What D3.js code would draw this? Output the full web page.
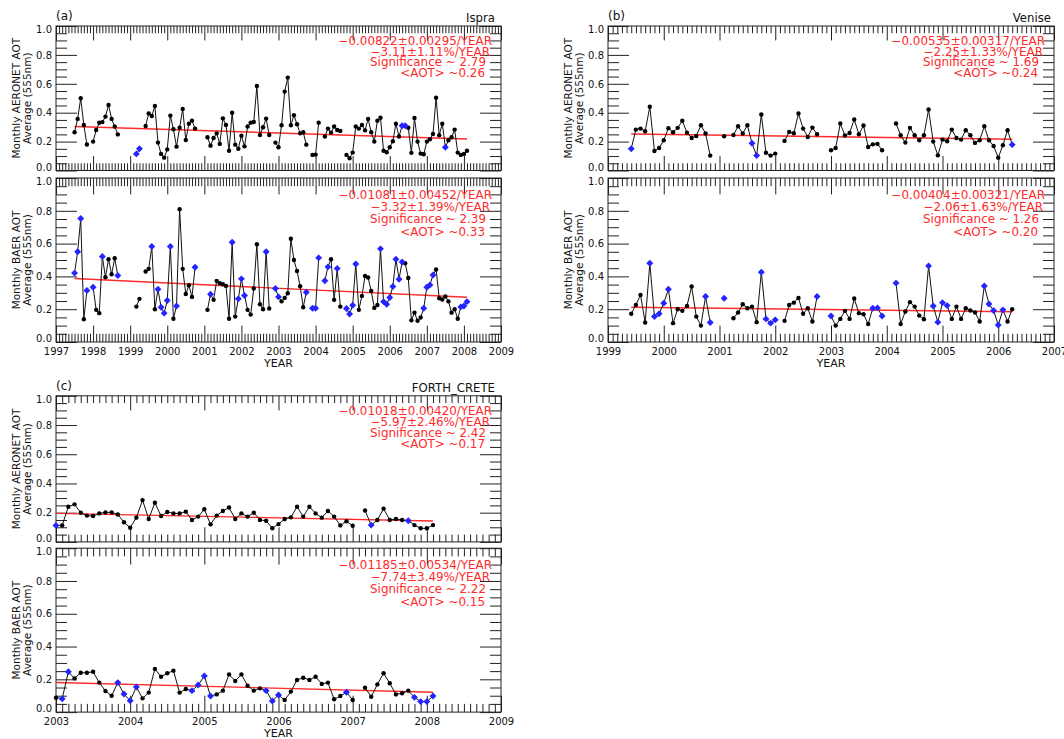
<!DOCTYPE html>
<html><head><meta charset="utf-8">
<script src="https://cdn.jsdelivr.net/npm/d3@7"></script>
<style>body{margin:0;background:#fff}svg{display:block}</style>
</head><body><svg id="chart" width="1064" height="739"></svg>
<script>
// ---------------- DATA ----------------
const yTicks = [0, 0.2, 0.4, 0.6, 0.8, 1.0];
const yMinorTicks = [0.05,0.1,0.15,0.25,0.3,0.35,0.45,0.5,0.55,0.65,0.7,0.75,0.85,0.9,0.95];

// Ispra (a): monthly series starting July 1997
const ispraYears = [1997,1998,1999,2000,2001,2002,2003,2004,2005,2006,2007,2008,2009];
const ispraStart = [1997, 7];
const ispraAeronet = [0.265,0.357,0.50,0.315,0.18,null,
 0.20,0.28,0.33,0.335,0.373,0.453,0.357,0.304,0.25,
 null,null,null,null,null,
 0.115,0.15,null,
 0.308,0.395,0.377,0.446,0.193,0.115,0.089,0.146,0.38,0.285,0.165,0.296,0.426,0.211,0.324,0.345,0.29,
 null,null,null,
 0.23,0.172,0.225,0.257,0.184,0.361,0.315,0.137,0.40,0.179,0.151,0.24,0.167,0.304,0.331,0.336,0.585,0.246,0.299,0.359,0.246,
 null,
 0.193,0.161,0.313,0.546,0.643,0.313,0.382,0.32,0.257,0.265,0.179,
 null,
 0.108,0.11,0.331,
 null,
 0.235,0.29,0.262,0.304,0.28,0.274,
 null,
 0.108,0.085,0.124,0.304,0.29,0.315,0.278,0.357,0.265,0.20,0.345,0.365,0.137,0.126,0.161,0.202,0.324,0.235,0.31,0.31,
 0.296,0.122,0.363,0.20,0.117,0.112,0.20,0.216,0.253,0.503,0.244,0.324,0.161,0.209,0.23,0.283,0.124,0.108,0.115,0.137];
const ispraAeronetBlue = [20,21,106,107,120];
const ispraAeronetTrend = [0.305, -0.00822];
const ispraAeronetStats = ["\u22120.00822\u00b10.00295/YEAR","\u22123.11\u00b11.11%/YEAR","Significance ~ 2.79","<AOT> ~0.26"];

const ispraBaer = [0.42,0.55,0.753,0.139,0.314,null,
 0.334,0.196,0.176,0.521,0.395,0.505,0.413,0.511,0.405,
 null,null,null,null,null,
 0.216,0.263,null,
 0.43,0.446,0.582,0.20,0.322,0.212,0.176,0.253,0.582,0.142,0.22,0.81,0.446,0.293,0.346,0.275,0.456,
 null,null,null,
 0.196,0.291,0.257,0.373,0.358,0.352,0.342,0.142,0.608,0.155,0.263,0.385,0.283,0.196,0.167,0.326,0.596,0.23,0.20,0.55,0.204,
 null,
 0.326,0.275,0.248,0.269,0.297,0.63,0.50,0.433,0.34,0.212,0.303,
 null,
 0.206,0.206,0.513,
 null,
 0.374,0.458,0.505,0.257,0.448,0.216,
 null,
 0.204,0.171,0.224,0.476,0.196,0.281,0.403,0.393,0.311,0.208,0.226,0.568,0.246,0.23,0.271,0.338,0.505,0.383,0.488,0.48,
 0.39,0.132,0.179,0.13,0.149,0.206,0.334,0.348,0.409,0.442,0.267,0.259,0.277,0.248,0.179,0.20,0.142,0.214,0.22,0.246];
const ispraBaerBlue = [0,1,2,4,6,9,14,25,27,28,29,30,31,33,39,44,51,53,54,55,62,65,66,75,77,78,79,81,82,85,88,89,90,91,99,100,101,102,103,104,105,106,113,114,115,116,125,126,127];
const ispraBaerTrend = [0.387, -0.01081];
const ispraBaerStats = ["\u22120.01081\u00b10.00452/YEAR","\u22123.32\u00b11.39%/YEAR","Significance ~ 2.39","<AOT> ~0.33"];

// Venise (b): monthly series starting June 1999
const veniseYears = [1999,2000,2001,2002,2003,2004,2005,2006,2007];
const veniseStart = [1999, 6];
const veniseAeronet = [0.151,0.283,0.29,0.272,0.441,0.135,0.156,0.209,0.293,0.265,0.295,0.344,0.262,0.225,0.239,0.313,0.256,0.103,
 null,null,
 0.237,
 null,
 0.246,0.306,0.256,0.313,0.188,0.103,0.388,0.123,0.103,0.117,
 null,
 0.205,0.267,0.258,0.394,0.29,0.232,0.297,0.251,
 null,null,
 0.14,0.156,0.325,0.242,0.26,0.353,0.251,0.311,0.163,0.181,0.184,0.14,
 null,null,
 0.325,0.244,0.193,0.295,0.244,0.209,0.244,0.422,0.20,0.105,0.214,0.202,0.283,0.225,0.214,0.279,0.244,0.191,0.209,0.306,0.209,0.17,0.089,0.175,0.279,0.179];
const veniseAeronetBlue = [0,26,27,82];
const veniseAeronetTrend = [0.253, -0.00535];
const veniseAeronetStats = ["\u22120.00535\u00b10.00317/YEAR","\u22122.25\u00b11.33%/YEAR","Significance ~ 1.69","<AOT> ~0.24"];

const veniseBaer = [0.172,0.226,0.287,0.119,0.48,0.155,0.172,0.237,0.322,0.115,0.20,0.19,0.22,0.338,0.155,0.10,0.277,0.119,
 null,null,
 0.267,
 null,
 0.145,0.18,0.23,0.206,0.216,0.121,0.426,0.141,0.115,0.135,
 null,
 0.129,0.226,0.24,0.269,0.172,0.206,0.125,0.277,
 null,null,
 0.159,0.10,0.141,0.19,0.141,0.265,0.176,0.169,0.11,0.206,0.208,0.159,
 null,null,
 0.359,0.11,0.186,0.243,0.216,0.161,0.139,0.464,0.22,0.121,0.24,0.222,0.141,0.216,0.141,0.206,0.192,0.18,0.125,0.342,0.232,0.192,0.104,0.196,0.125,0.20];
const veniseBaerBlue = [4,5,6,7,8,16,17,20,28,29,30,31,40,43,52,53,54,57,64,65,66,67,68,76,77,78,79,80];
const veniseBaerTrend = [0.212, -0.00404];
const veniseBaerStats = ["\u22120.00404\u00b10.00321/YEAR","\u22122.06\u00b11.63%/YEAR","Significance ~ 1.26","<AOT> ~0.20"];

// FORTH_CRETE (c): monthly series starting January 2003
const creteYears = [2003,2004,2005,2006,2007,2008,2009];
const creteStart = [2003, 1];
const creteAeronet = [0.113,0.113,0.241,0.257,0.20,0.18,0.177,0.195,0.202,0.202,0.188,0.134,
 0.097,0.166,0.286,0.157,0.268,0.177,0.205,0.195,0.195,0.207,0.15,0.173,
 0.223,0.12,0.18,0.212,0.235,0.157,0.195,0.173,0.20,0.15,0.145,0.093,
 0.122,0.157,0.168,0.241,0.173,0.241,0.195,0.166,0.212,0.173,0.113,0.141,
 0.111,null,0.215,0.115,0.15,0.228,0.15,0.157,0.15,0.145,0.115,0.093,
 0.093,0.115];
const creteAeronetBlue = [0,51,57];
const creteAeronetTrend = [0.195, -0.01018];
const creteAeronetStats = ["\u22120.01018\u00b10.00420/YEAR","\u22125.97\u00b12.46%/YEAR","Significance ~ 2.42","<AOT> ~0.17"];

const creteBaer = [0.088,0.082,0.246,0.206,0.24,0.24,0.246,0.18,0.129,0.10,0.18,0.11,
 0.07,0.153,0.084,0.119,0.263,0.216,0.237,0.253,0.119,0.141,0.131,0.165,
 0.22,0.098,0.108,0.131,0.23,0.19,0.23,0.161,0.131,0.145,0.131,0.068,
 0.104,0.074,0.125,0.196,0.21,0.196,0.216,0.172,0.18,0.078,0.098,0.121,
 0.074,null,0.149,0.094,0.169,0.237,0.176,0.108,0.115,0.131,0.09,0.064,
 0.064,0.098];
const creteBaerBlue = [1,2,10,11,12,13,22,23,24,25,34,35,36,47,58,59,60,61];
const creteBaerTrend = [0.181, -0.01185];
const creteBaerStats = ["\u22120.01185\u00b10.00534/YEAR","\u22127.74\u00b13.49%/YEAR","Significance ~ 2.22","<AOT> ~0.15"];

// ---------------- DRAWING ----------------
const FONT = "'DejaVu Sans', 'Liberation Sans', Arial, sans-serif";
const INK = "#222";
const RED = "#ff2a2a";
const BLUE = "#2424ff";
const svg = d3.select("#chart").style("font-family", FONT);

const panels = [
  {label:"(a)", site:"Ispra", siteRight:495, years:ispraYears, start:ispraStart, x0:56, x1:501, rows:[
    {top:26, bottom:170.5, title:"Monthly AERONET AOT", values:ispraAeronet, blue:ispraAeronetBlue, trend:ispraAeronetTrend, stats:ispraAeronetStats, xlab:false},
    {top:178, bottom:342, title:"Monthly BAER AOT", values:ispraBaer, blue:ispraBaerBlue, trend:ispraBaerTrend, stats:ispraBaerStats, xlab:true}]},
  {label:"(b)", site:"Venise", siteRight:1051, years:veniseYears, start:veniseStart, x0:608, x1:1054, rows:[
    {top:26, bottom:170.5, title:"Monthly AERONET AOT", values:veniseAeronet, blue:veniseAeronetBlue, trend:veniseAeronetTrend, stats:veniseAeronetStats, xlab:false},
    {top:178, bottom:342, title:"Monthly BAER AOT", values:veniseBaer, blue:veniseBaerBlue, trend:veniseBaerTrend, stats:veniseBaerStats, xlab:true}]},
  {label:"(c)", site:"FORTH_CRETE", siteRight:495, years:creteYears, start:creteStart, x0:56, x1:501, rows:[
    {top:395.8, bottom:541.9, title:"Monthly AERONET AOT", values:creteAeronet, blue:creteAeronetBlue, trend:creteAeronetTrend, stats:creteAeronetStats, xlab:false},
    {top:548.2, bottom:712.1, title:"Monthly BAER AOT", values:creteBaer, blue:creteBaerBlue, trend:creteBaerTrend, stats:creteBaerStats, xlab:true}]}
];

function styleAxis(g, fs) {
  g.select(".domain").remove();
  g.selectAll(".tick line").attr("stroke", INK).attr("stroke-width", 1);
  g.selectAll(".tick text").attr("fill", "#111").style("font-family", FONT).style("font-size", fs + "px");
}

panels.forEach(p => {
  const y0 = p.years[0], y1 = p.years[p.years.length - 1];
  const months = d3.range(1, (y1 - y0) * 12).filter(i => i % 12 !== 0).map(i => y0 + i / 12);
  const x = d3.scaleLinear().domain([y0, y1]).range([p.x0, p.x1]);

  svg.append("text").attr("x", p.x0).attr("y", p.rows[0].top - 6)
    .attr("font-size", 12).attr("fill", "#111").text(p.label);
  svg.append("text").attr("x", p.siteRight).attr("y", p.rows[0].top - 4)
    .attr("text-anchor", "end").attr("font-size", 11.7).attr("fill", "#111").text(p.site);

  p.rows.forEach(r => {
    const y = d3.scaleLinear().domain([0, 1]).range([r.bottom, r.top]);
    const h = r.bottom - r.top;
    const xMaj = h * 0.1, xMin = h * 0.05;
    const g = svg.append("g");

    // frame
    g.append("rect").attr("x", p.x0).attr("y", r.top).attr("width", p.x1 - p.x0).attr("height", h)
      .attr("fill", "none").attr("stroke", INK).attr("stroke-width", 1);

    // bottom axis
    const gb = g.append("g").attr("transform", `translate(0,${r.bottom})`)
      .call(d3.axisBottom(x).tickValues(p.years).tickSizeInner(-xMaj).tickSizeOuter(0).tickPadding(6)
        .tickFormat(r.xlab ? d3.format("d") : () => ""));
    styleAxis(gb, 10);
    const gbm = g.append("g").attr("transform", `translate(0,${r.bottom})`)
      .call(d3.axisBottom(x).tickValues(months).tickSizeInner(-xMin).tickSizeOuter(0).tickFormat(() => ""));
    styleAxis(gbm, 10);
    // top axis
    const gt = g.append("g").attr("transform", `translate(0,${r.top})`)
      .call(d3.axisBottom(x).tickValues(p.years).tickSizeInner(xMaj).tickSizeOuter(0).tickFormat(() => ""));
    styleAxis(gt, 10);
    const gtm = g.append("g").attr("transform", `translate(0,${r.top})`)
      .call(d3.axisBottom(x).tickValues(months).tickSizeInner(xMin).tickSizeOuter(0).tickFormat(() => ""));
    styleAxis(gtm, 10);
    // left axis
    const gl = g.append("g").attr("transform", `translate(${p.x0},0)`)
      .call(d3.axisLeft(y).tickValues(yTicks).tickSizeInner(-21).tickSizeOuter(0).tickPadding(4).tickFormat(d3.format(".1f")));
    styleAxis(gl, 10);
    gl.selectAll(".tick text").attr("y", d => d === 0 ? -3.5 : (d === 1 ? 3.5 : 0));
    const glm = g.append("g").attr("transform", `translate(${p.x0},0)`)
      .call(d3.axisLeft(y).tickValues(yMinorTicks).tickSizeInner(-11).tickSizeOuter(0).tickFormat(() => ""));
    styleAxis(glm, 10);
    // right axis
    const gr = g.append("g").attr("transform", `translate(${p.x1},0)`)
      .call(d3.axisRight(y).tickValues(yTicks).tickSizeInner(-21).tickSizeOuter(0).tickFormat(() => ""));
    styleAxis(gr, 10);
    const grm = g.append("g").attr("transform", `translate(${p.x1},0)`)
      .call(d3.axisRight(y).tickValues(yMinorTicks).tickSizeInner(-11).tickSizeOuter(0).tickFormat(() => ""));
    styleAxis(grm, 10);

    // y title (two lines)
    const cy = (r.top + r.bottom) / 2;
    [[r.title, -40], ["Average (555nm)", -28.5]].forEach(([t, dx]) => {
      g.append("text").attr("transform", `translate(${p.x0 + dx},${cy}) rotate(-90)`)
        .attr("text-anchor", "middle").attr("dy", "0.35em").attr("font-size", 10.5).attr("fill", "#111").text(t);
    });

    if (r.xlab) {
      g.append("text").attr("x", (p.x0 + p.x1) / 2).attr("y", r.bottom + 25)
        .attr("text-anchor", "middle").attr("font-size", 11).attr("fill", "#111").text("YEAR");
    }

    // data
    const blueSet = new Set(r.blue);
    const pts = r.values.map((v, i) => ({t: p.start[0] + (p.start[1] - 1 + i) / 12, v, blue: blueSet.has(i)}));
    const valid = pts.filter(d => d.v != null);

    // trend line
    const tA = valid[0].t, tB = valid[valid.length - 1].t;
    g.append("line").attr("x1", x(tA)).attr("y1", y(r.trend[0]))
      .attr("x2", x(tB)).attr("y2", y(r.trend[0] + r.trend[1] * (tB - tA)))
      .attr("stroke", RED).attr("stroke-width", 1.4);

    const line = d3.line().defined(d => d.v != null).x(d => x(d.t)).y(d => y(d.v));
    g.append("path").datum(pts).attr("d", line).attr("fill", "none").attr("stroke", "#111").attr("stroke-width", 1);

    g.selectAll("circle.pt").data(valid.filter(d => !d.blue)).join("circle")
      .attr("cx", d => x(d.t)).attr("cy", d => y(d.v)).attr("r", 2.2).attr("fill", "#000");
    const diamond = d3.symbol(d3.symbolSquare, 24);
    g.selectAll("path.bl").data(valid.filter(d => d.blue)).join("path")
      .attr("d", diamond).attr("transform", d => `translate(${x(d.t)},${y(d.v)}) rotate(45)`).attr("fill", BLUE);

    // stats text
    const rightOff = [9, 11, 15, 16];
    r.stats.forEach((s, i) => {
      g.append("text").attr("x", p.x1 - rightOff[i]).attr("y", y(0.9 - 0.075 * i)).attr("dy", "0.36em")
        .attr("text-anchor", "end").attr("font-size", 11.9).attr("fill", RED).text(s);
    });
  });
});
</script></body></html>
